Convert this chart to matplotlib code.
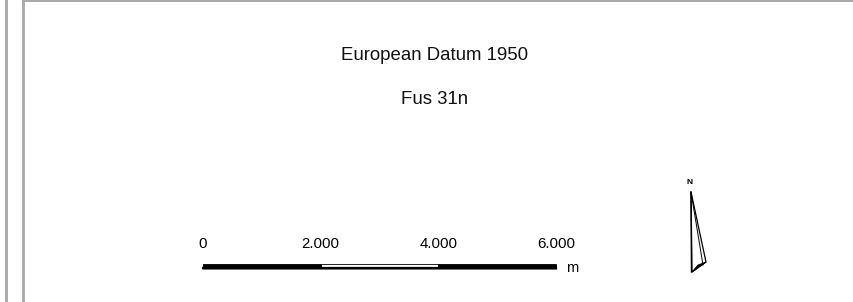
import matplotlib.pyplot as plt
from matplotlib.patches import Rectangle, Polygon

plt.rcParams['font.family'] = ['Liberation Sans', 'DejaVu Sans']

# text of the layout
title_lines = ["European Datum 1950", "Fus 31n"]
# scale bar divisions in metres
scale_values = [0, 2000, 4000, 6000]
scale_labels = ["0", "2.000", "4.000", "6.000"]
scale_fills = ["black", "white", "black"]
unit = "m"

fig = plt.figure(figsize=(8.54, 3.02), dpi=100)
ax = fig.add_axes([0, 0, 1, 1])
ax.set_xlim(0, 854)
ax.set_ylim(302, 0)
ax.axis("off")

# frame lines (page border)
ax.plot([6.5, 6.5], [0, 302], color="#a8a8a8", lw=2.0)
ax.plot([23, 23], [0, 302], color="#a8a8a8", lw=2.0)
ax.plot([23, 854], [0.6, 0.6], color="#a8a8a8", lw=1.4)

# titles
ax.text(435, 55, title_lines[0], ha="center", va="center", fontsize=13.4, color="#111111")
ax.text(435, 99, title_lines[1], ha="center", va="center", fontsize=13.4, color="#111111")

# scale bar
x0, x1 = 203, 556
px_per_m = (x1 - x0) / scale_values[-1]
bar_top, bar_h = 264, 4.5
for i, fill in enumerate(scale_fills):
    a = x0 + scale_values[i] * px_per_m
    b = x0 + scale_values[i + 1] * px_per_m
    ax.add_patch(Rectangle((a, bar_top), b - a, bar_h, facecolor=fill,
                           edgecolor="black", lw=0.6))
# shadow and bottom line
ax.plot([x0, x1], [bar_top + bar_h + 0.8, bar_top + bar_h + 0.8], color="#9a9a9a", lw=1.2)
ax.plot([x0, x1], [bar_top + bar_h - 0.8, bar_top + bar_h - 0.8], color="black", lw=1.6)
for v, lab in zip(scale_values, scale_labels):
    ax.text(x0 + v * px_per_m, 244, lab, ha="center", va="center", fontsize=10.8)
ax.text(x1 + 10, 268, unit, ha="left", va="center", fontsize=10.5)

# north arrow
ax.text(690, 182, "N", ha="center", va="center", fontsize=6, fontweight="bold")
ax.add_patch(Polygon([(691, 192), (706, 262), (692, 272)], closed=True,
                     facecolor="white", edgecolor="black", lw=0.9))
ax.plot([691, 691.5], [192, 272], color="black", lw=1.0)
ax.plot([691, 703], [192, 265], color="black", lw=0.7)
ax.add_patch(Polygon([(698, 265), (706, 262), (692, 272)], closed=True,
                     facecolor="black", edgecolor="black", lw=0.6))

fig.savefig("out.png", dpi=100)
